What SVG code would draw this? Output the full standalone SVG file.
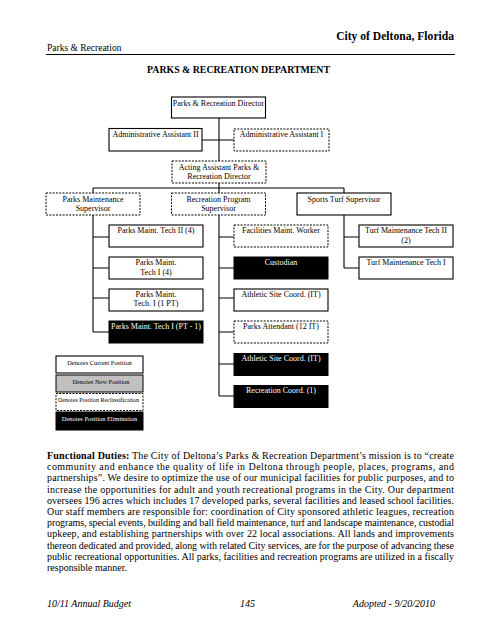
<svg xmlns="http://www.w3.org/2000/svg" width="495" height="640" viewBox="0 0 495 640">
<style>
text{font-family:"Liberation Serif","Times New Roman",serif;fill:#000}
.b{font-size:8px;text-anchor:middle}
.w{fill:#fff}
.lg{font-size:6.4px;text-anchor:middle}
.p{font-size:10px}
.box{fill:#fff;stroke:#000;stroke-width:1.1}
.dash{fill:#fff;stroke:#000;stroke-width:1;stroke-dasharray:2 1.3}
.blk{fill:#000;stroke:#000;stroke-width:1}
.gry{fill:#c0c0c0;stroke:#000;stroke-width:1}
.ln{stroke:#000;stroke-width:1.1;fill:none}
.ft{font-size:10px;font-style:italic}
</style>
<rect width="495" height="640" fill="#fff"/>
<g id="header">
<text x="454" y="40" font-size="11.6" font-weight="bold" text-anchor="end">City of Deltona, Florida</text>
<text x="47" y="51" font-size="9.5">Parks &amp; Recreation</text>
<line x1="46" y1="54.5" x2="455" y2="54.5" stroke="#000" stroke-width="1"/>
<text x="238.5" y="73" font-size="9.5" font-weight="bold" text-anchor="middle" textLength="183" lengthAdjust="spacingAndGlyphs">PARKS &amp; RECREATION DEPARTMENT</text>
</g>
<g id="connectors">
<path class="ln" d="M219 118V161M202 140H234M219 183V193M93 188H344M93 188V193M344 188V193"/>
<path class="ln" d="M93 215V332M93 237H109M93 268H109M93 298H109M93 332H109"/>
<path class="ln" d="M219 215V396M219 237H234M219 268H234M219 298H234M219 332H234M219 364H234M219 396H234"/>
<path class="ln" d="M344 215V268M344 237H359M344 268H359"/>
</g>
<g id="director"><rect class="box" x="171.5" y="97" width="94" height="21"/><text class="b" x="218.5" y="105.5">Parks &amp; Recreation Director</text></g>
<g id="admin2"><rect class="box" x="109" y="128.5" width="93" height="22.5"/><text class="b" x="155.5" y="137">Administrative Assistant II</text></g>
<g id="admin1"><rect class="dash" x="234" y="129" width="95" height="22"/><text class="b" x="281.5" y="137">Administrative Assistant I</text></g>
<g id="acting"><rect class="dash" x="172" y="161" width="94" height="22"/><text class="b" x="219" y="169.5">Acting Assistant Parks &amp;</text><text class="b" x="219" y="179">Recreation Director</text></g>
<g id="parksSup"><rect class="dash" x="46" y="193" width="94" height="22"/><text class="b" x="93" y="201.5">Parks Maintenance</text><text class="b" x="93" y="211">Supervisor</text></g>
<g id="recSup"><rect class="dash" x="171.5" y="193" width="94" height="22"/><text class="b" x="218.5" y="201.5">Recreation Program</text><text class="b" x="218.5" y="211">Supervisor</text></g>
<g id="turfSup"><rect class="box" x="297" y="193" width="94" height="22"/><text class="b" x="344" y="201.5">Sports Turf Supervisor</text></g>
<g id="pmt2"><rect class="box" x="109" y="225" width="94" height="22"/><text class="b" x="156" y="233">Parks Maint. Tech II (4)</text></g>
<g id="pmt1"><rect class="box" x="109" y="257" width="94" height="22"/><text class="b" x="156" y="265">Parks Maint.</text><text class="b" x="156" y="274.5">Tech I (4)</text></g>
<g id="pmt1pt"><rect class="box" x="109" y="289" width="94" height="22"/><text class="b" x="156" y="296.5">Parks Maint.</text><text class="b" x="156" y="306">Tech. I (1 PT)</text></g>
<g id="pmt1pt1"><rect class="blk" x="109" y="321" width="94" height="22"/><text class="b w" x="156" y="328.5">Parks Maint. Tech I (PT - 1)</text></g>
<g id="facil"><rect class="dash" x="234" y="225" width="94" height="22"/><text class="b" x="281" y="233">Facilities Maint. Worker</text></g>
<g id="custodian"><rect class="blk" x="234" y="257" width="94" height="22"/><text class="b w" x="281" y="265">Custodian</text></g>
<g id="athletic1"><rect class="box" x="234" y="289" width="94" height="22"/><text class="b" x="281" y="297">Athletic Site Coord. (IT)</text></g>
<g id="attendant"><rect class="dash" x="234" y="321" width="94" height="22"/><text class="b" x="281" y="328.5">Parks Attendant (12 IT)</text></g>
<g id="athletic2"><rect class="blk" x="234" y="353.5" width="94" height="22"/><text class="b w" x="281" y="360.5">Athletic Site Coord. (IT)</text></g>
<g id="reccoord"><rect class="blk" x="234" y="385.5" width="94" height="22"/><text class="b w" x="281" y="393">Recreation Coord. (1)</text></g>
<g id="turf2"><rect class="box" x="359" y="225" width="94" height="22"/><text class="b" x="406" y="233">Turf Maintenance Tech II</text><text class="b" x="406" y="242.5">(2)</text></g>
<g id="turf1"><rect class="box" x="359" y="257" width="94" height="22"/><text class="b" x="406" y="265">Turf Maintenance Tech I</text></g>
<g id="legend">
<rect class="box" x="56" y="356" width="87" height="17"/><text class="lg" x="99.5" y="365">Denotes Current Position</text>
<rect class="gry" x="56" y="375" width="87" height="17"/><text class="lg" x="101" y="384">Denotes New Position</text>
<rect class="dash" x="56" y="393.5" width="87" height="17"/><text class="lg" x="98.5" y="402" textLength="81" lengthAdjust="spacingAndGlyphs">Denotes Position Reclassification</text>
<rect class="blk" x="56" y="412" width="87" height="18"/><text class="lg w" x="99.5" y="421">Denotes Position Elimination</text>
</g>
<g id="paragraph">
<text class="p" x="47" y="459" textLength="407" lengthAdjust="spacing"><tspan font-weight="bold">Functional Duties:</tspan>  The City of Deltona’s Parks &amp; Recreation Department’s mission is to “create</text>
<text class="p" x="47" y="470.2" textLength="407" lengthAdjust="spacing">community and enhance the quality of life in Deltona through people, places, programs, and</text>
<text class="p" x="47" y="481.4" textLength="407" lengthAdjust="spacing">partnerships”.  We desire to optimize the use of our municipal facilities for public purposes, and to</text>
<text class="p" x="47" y="492.6" textLength="407" lengthAdjust="spacing">increase the opportunities for adult and youth recreational programs in the City.  Our department</text>
<text class="p" x="47" y="503.8" textLength="407" lengthAdjust="spacing">oversees 196 acres which includes 17 developed parks, several facilities and leased school facilities.</text>
<text class="p" x="47" y="515" textLength="407" lengthAdjust="spacing">Our staff members are responsible for: coordination of City sponsored athletic leagues, recreation</text>
<text class="p" x="47" y="526.2" textLength="407" lengthAdjust="spacing">programs, special events, building and ball field maintenance, turf and landscape maintenance, custodial</text>
<text class="p" x="47" y="537.4" textLength="407" lengthAdjust="spacing">upkeep, and establishing partnerships with over 22 local associations.  All lands and improvements</text>
<text class="p" x="47" y="548.6" textLength="407" lengthAdjust="spacing">thereon dedicated and provided, along with related City services, are for the purpose of advancing these</text>
<text class="p" x="47" y="559.8" textLength="407" lengthAdjust="spacing">public recreational opportunities.  All parks, facilities and recreation programs are utilized in a fiscally</text>
<text class="p" x="47" y="571">responsible manner.</text>
</g>
<g id="footer">
<text class="ft" x="47" y="607">10/11 Annual Budget</text>
<text class="ft" x="240" y="607">145</text>
<text class="ft" x="435" y="607" text-anchor="end">Adopted - 9/20/2010</text>
</g>
</svg>
